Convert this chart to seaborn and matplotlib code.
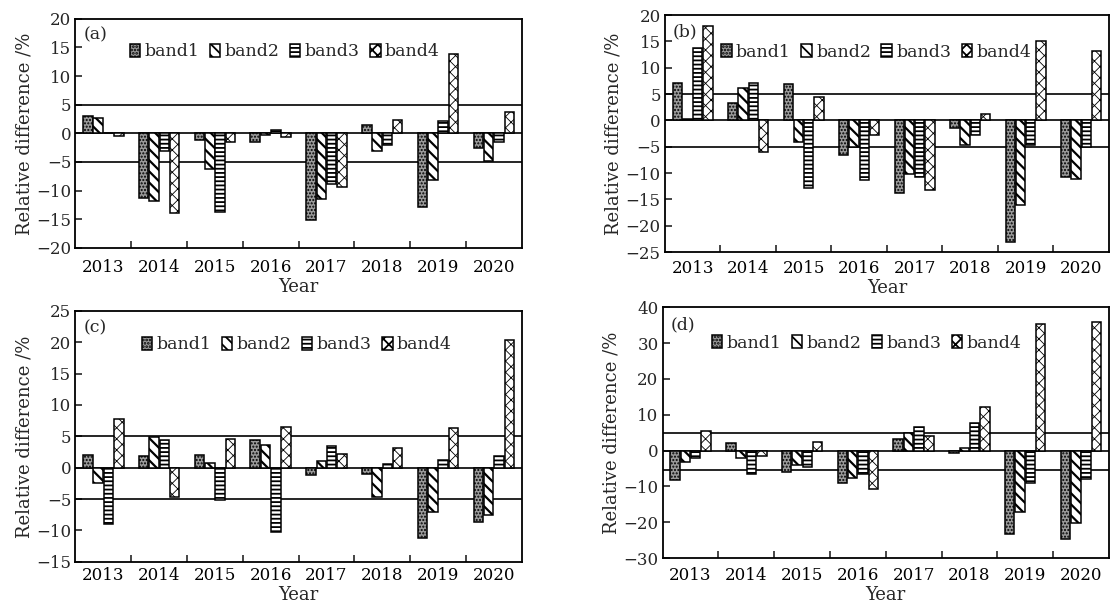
import numpy as np
import matplotlib
matplotlib.use('Agg')
import matplotlib.pyplot as plt
import seaborn as sns
import pandas as pd

# years and band names shared by all four panels
years = ['2013', '2014', '2015', '2016', '2017', '2018', '2019', '2020']
bands = ['band1', 'band2', 'band3', 'band4']

# relative difference (%) per band
a_band1 = [3.0, -11.3, -1.1, -1.6, -15.2, 1.4, -12.8, -2.6]
a_band2 = [2.7, -11.9, -6.3, -0.3, -11.5, -3.1, -8.1, -4.9]
a_band3 = [0.1, -3.0, -13.8, 0.5, -8.8, -2.1, 2.1, -1.5]
a_band4 = [-0.4, -14.0, -1.5, -0.6, -9.3, 2.4, 13.8, 3.7]

b_band1 = [7.2, 3.3, 7.0, -6.5, -13.8, -1.4, -23.0, -10.8]
b_band2 = [0.2, 6.2, -4.0, -5.0, -10.1, -4.7, -16.1, -11.1]
b_band3 = [13.8, 7.2, -12.8, -11.3, -10.8, -2.8, -4.6, -5.1]
b_band4 = [18.0, -5.9, 4.4, -2.8, -13.3, 1.2, 15.1, 13.1]

c_band1 = [2.0, 1.9, 2.0, 4.35, -1.1, -1.0, -11.2, -8.65]
c_band2 = [-2.5, 4.9, 0.75, 3.55, 1.1, -4.6, -7.1, -7.6]
c_band3 = [-9.0, 4.35, -5.1, -10.3, 3.5, 0.6, 1.3, 1.8]
c_band4 = [7.8, -4.6, 4.5, 6.55, 2.15, 3.2, 6.4, 20.3]

d_band1 = [-8.2, 2.1, -6.1, -8.9, 3.3, -0.7, -23.4, -24.8]
d_band2 = [-3.3, -2.2, -4.0, -7.6, 5.0, 0.7, -17.0, -20.1]
d_band3 = [-2.2, -6.4, -4.6, -6.4, 6.5, 7.8, -9.1, -7.9]
d_band4 = [5.6, -1.6, 2.3, -10.6, 4.0, 12.1, 35.3, 35.9]

# y ranges and reference lines of each panel
a_ylim, a_ticks, a_refs = (-20, 20), list(range(-20, 21, 5)), [5, 0, -5]
b_ylim, b_ticks, b_refs = (-25, 20), list(range(-25, 21, 5)), [5, 0, -5]
c_ylim, c_ticks, c_refs = (-15, 25), list(range(-15, 26, 5)), [5, 0, -5]
d_ylim, d_ticks, d_refs = (-30, 40), list(range(-30, 41, 10)), [4.8, 0, -5.5]

panels = [
    ('(a)', [a_band1, a_band2, a_band3, a_band4], a_ylim, a_ticks, a_refs),
    ('(b)', [b_band1, b_band2, b_band3, b_band4], b_ylim, b_ticks, b_refs),
    ('(c)', [c_band1, c_band2, c_band3, c_band4], c_ylim, c_ticks, c_refs),
    ('(d)', [d_band1, d_band2, d_band3, d_band4], d_ylim, d_ticks, d_refs),
]

# axes boxes in figure fractions [left, bottom, width, height]
boxes = [
    [0.068, 0.591, 0.402, 0.378],
    [0.599, 0.584, 0.400, 0.391],
    [0.068, 0.073, 0.402, 0.414],
    [0.597, 0.079, 0.402, 0.414],
]
# legend centres in axes fractions, and x tick label pads
legend_pos = [(0.469, 0.856), (0.476, 0.844), (0.496, 0.865), (0.457, 0.857)]
xpads = [8, 5.5, 3.5, 6.5]

sns.set_theme(style='ticks')
plt.rcParams['font.family'] = ['DejaVu Serif']
plt.rcParams['hatch.linewidth'] = 1.3
plt.rcParams['axes.linewidth'] = 1.2

face = ['#9a9a9a', 'white', 'white', 'white']
hatches = ['.....', '\\\\\\', '----', 'xxx']
hatch_lw = [1.0, 1.6, 1.3, 0.6]

fig = plt.figure(figsize=(11.1, 6.06), dpi=100)

for (label, vals, ylim, yticks, refs), box, lpos, xpad in zip(panels, boxes, legend_pos, xpads):
    ax = fig.add_axes(box)
    rows = []
    for band, v in zip(bands, vals):
        for yr, val in zip(years, v):
            rows.append({'year': yr, 'value': val, 'band': band})
    df = pd.DataFrame(rows)

    sns.barplot(data=df, x='year', y='value', hue='band', order=years, hue_order=bands,
                palette=['white'] * 4, width=0.74, gap=0.08, edgecolor='black',
                linewidth=1.1, legend=False, ax=ax, zorder=3)

    for cont, fc, h, hl in zip(ax.containers, face, hatches, hatch_lw):
        for p in cont:
            p.set_facecolor(fc)
            p.set_hatch(h)
            p.set_edgecolor('black')
            if hasattr(p, 'set_hatch_linewidth'):
                p.set_hatch_linewidth(hl)

    for r in refs:
        ax.axhline(r, color='black', lw=1.2, zorder=2)

    ax.set_ylim(*ylim)
    ax.set_yticks(yticks)
    ax.set_xlim(-0.5, len(years) - 0.5)
    ax.set_xticks(range(len(years)))
    ax.set_xticklabels(years)
    ax.set_xticks(np.arange(0.5, len(years) - 1, 1.0), minor=True)
    ax.tick_params(axis='x', which='major', length=0, labelsize=12, pad=xpad, colors='black')
    ax.tick_params(axis='x', which='minor', direction='in', length=5, width=1.2)
    ax.tick_params(axis='y', direction='in', length=5, width=1.2, labelsize=12, pad=3)
    for s in ax.spines.values():
        s.set_visible(True)
        s.set_color('black')
        s.set_linewidth(1.3)

    ax.set_xlabel('Year', fontsize=13, labelpad=1.5)
    ax.set_ylabel('Relative difference /%', fontsize=13, labelpad=2)
    ax.text(0.018, 0.965, label, transform=ax.transAxes, fontsize=12.5, va='top', ha='left')

    ax.legend(ax.containers, bands, loc='center', bbox_to_anchor=lpos, ncol=4,
              frameon=False, fontsize=12.5, handlelength=0.6, handleheight=0.75,
              handletextpad=0.25, columnspacing=0.6, borderpad=0, borderaxespad=0)

plt.savefig('out.png', dpi=100)
